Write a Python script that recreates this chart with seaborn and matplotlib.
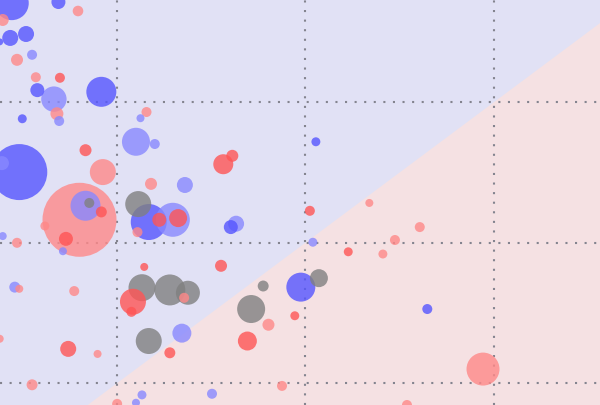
import matplotlib
matplotlib.use("Agg")

import pandas as pd
import matplotlib.pyplot as plt
import seaborn as sns


# ======================================
# DATA
# ======================================

x_vals = [
    11.0, 17.2, 19.8, 9.8, 10.8, 12.9, 9.4, 13.7, 11.7, 14.2,
    17.4, 14.4, 16.6, 22.9, 17.0, 17.3, 12.4, 28.9, 28.1, 27.5,
    30.0, 12.0, 9.7, 20.8, 23.1, 20.0, 20.8, 21.3, 22.9, 15.4,
    18.2, 17.8, 9.8, 11.7, 29.5, 34.0, 27.8, 29.2, 32.4, 30.6,
    33.1, 27.7, 28.6, 51.4, 39.1, 40.3, 40.8, 40.1, 50.6, 51.0,
    38.8, 58.5, 55.7, 60.3, 61.9, 65.2, 11.4, 12.0, 19.3, 9.4,
    18.5, 22.4, 13.7, 27.1, 26.9, 28.3, 32.0, 34.4, 33.9, 29.2,
    33.6, 32.0, 28.3, 27.5, 25.0, 44.4, 42.8, 45.1, 42.3, 49.4,
    51.8, 48.6, 46.9, 37.6, 66.2, 73.6, 63.5,
]

y_vals = [
    92.7, 92.9, 91.3, 89.7, 86.5, 87.2, 85.8, 83.5, 82.6, 79.5,
    79.4, 77.2, 75.6, 76.9, 73.0, 71.7, 72.1, 73.3, 72.2, 68.0,
    67.6, 62.6, 64.2, 66.5, 62.6, 54.1, 56.6, 57.1, 55.5, 53.0,
    50.7, 48.5, 51.2, 50.0, 60.5, 60.3, 56.9, 53.7, 54.1, 54.1,
    54.4, 51.9, 45.7, 68.0, 64.0, 65.5, 53.4, 52.8, 55.7, 50.1,
    45.9, 57.1, 48.4, 48.0, 50.5, 52.8, 42.1, 41.8, 41.4, 32.9,
    31.1, 30.2, 24.7, 39.5, 37.7, 42.0, 41.6, 41.1, 40.2, 32.5,
    33.9, 30.4, 22.9, 21.5, 21.3, 42.3, 38.2, 35.4, 32.5, 42.1,
    43.7, 37.0, 24.5, 23.1, 38.2, 27.5, 21.1,
]

pop = [
    289, 49, 28, 36, 64, 64, 12, 25, 36, 25,
    25, 49, 161, 225, 42, 25, 20, 25, 16, 196,
    25, 784, 49, 36, 169, 1369, 225, 25, 30, 20,
    49, 16, 16, 25, 36, 64, 169, 324, 289, 49,
    81, 25, 16, 20, 100, 36, 64, 49, 25, 20,
    36, 16, 20, 20, 25, 25, 30, 16, 25, 16,
    64, 16, 30, 169, 25, 182, 240, 144, 25, 169,
    90, 30, 20, 16, 25, 30, 196, 36, 90, 210,
    81, 20, 25, 25, 25, 272, 25,
]

group = [
    "D", "D", "lean R", "lean R", "D", "D", "D", "lean D", "lean R", "lean R",
    "R", "D", "lean D", "D", "lean R", "lean D", "D", "lean R", "lean D", "lean D",
    "lean D", "D", "lean D", "R", "lean R", "lean R", "lean D", "other", "R", "lean R",
    "R", "lean D", "lean D", "lean R", "lean R", "lean D", "other", "D", "lean D", "R",
    "R", "lean R", "R", "D", "R", "R", "lean D", "D", "R", "lean D",
    "R", "lean R", "R", "lean R", "lean R", "lean R", "lean D", "lean R", "lean R", "lean R",
    "R", "lean R", "lean R", "R", "R", "other", "other", "other", "lean R", "other",
    "lean D", "R", "lean D", "lean D", "lean R", "other", "other", "lean R", "R", "D",
    "other", "R", "lean R", "lean D", "D", "lean R", "lean R",
]

grid_ticks = [25, 50, 75]

palette = {
    "D": "#5555ff",
    "lean D": "#8888ff",
    "R": "#ff5555",
    "lean R": "#ff8888",
    "other": "#808080",
}

BG_TOP = "#e1e1f5"
BG_BOTTOM = "#f5e1e3"


# ======================================
# DATAFRAME
# ======================================

df = pd.DataFrame({
    "x": x_vals,
    "y": y_vals,
    "pop": pop,
    "group": group,
})

# big bubbles first so small ones sit on top
df = df.sort_values("pop", ascending=False, kind="stable")


# ======================================
# PLOT
# ======================================

sns.set_style("white")

fig = plt.figure(figsize=(6, 4.05), dpi=100)
ax = fig.add_axes([0, 0, 1, 1])

xlim = (9.44, 89.14)
ylim = (21.10, 93.26)

ax.set_facecolor(BG_TOP)

# region below the y = x line
line_x = [xlim[0], xlim[1]]
ax.fill_between(line_x, [ylim[0], ylim[0]], line_x,
                color=BG_BOTTOM, linewidth=0, zorder=0.1)

ax.set_xticks(grid_ticks)
ax.set_yticks(grid_ticks)
ax.grid(True, color="#84848f", linestyle=(0, (1, 3.6)), linewidth=1.5)
ax.set_axisbelow(True)
for line in ax.get_xgridlines() + ax.get_ygridlines():
    line.set_zorder(0.5)

pmin, pmax = df["pop"].min(), df["pop"].max()
k = (2 * 0.72) ** 2

sns.scatterplot(
    data=df,
    x="x",
    y="y",
    hue="group",
    palette=palette,
    size="pop",
    sizes=(pmin * k, pmax * k),
    size_norm=(pmin, pmax),
    alpha=0.8,
    linewidth=0,
    legend=False,
    ax=ax,
    zorder=2,
)

ax.set_xlim(*xlim)
ax.set_ylim(*ylim)
ax.set_xlabel("")
ax.set_ylabel("")
ax.tick_params(length=0, labelbottom=False, labelleft=False)
for spine in ax.spines.values():
    spine.set_visible(False)

fig.savefig("out.png", dpi=100)
